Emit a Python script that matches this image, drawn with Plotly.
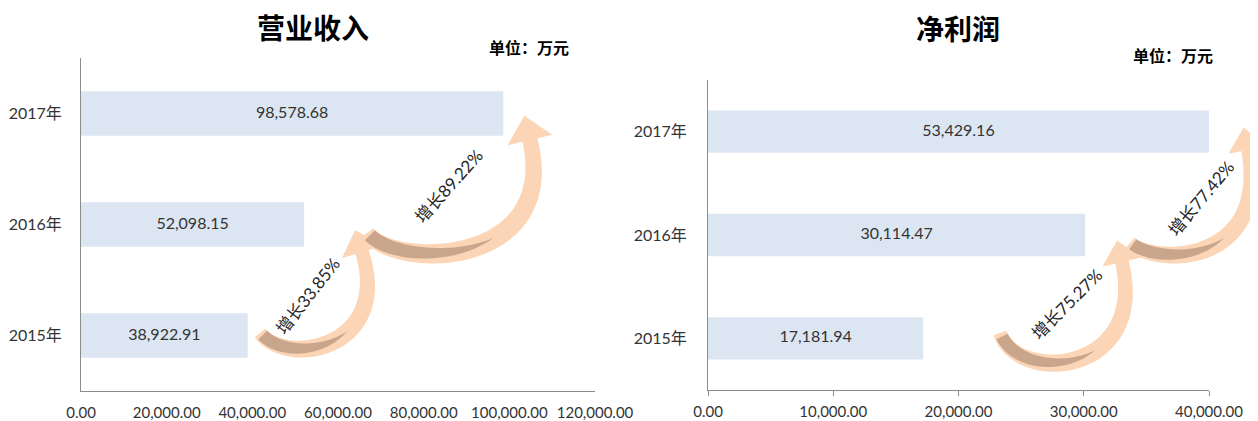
import numpy as np
import plotly.graph_objects as go

OFF = 8                       # page body margin
W, H = 1258 - OFF, 421 - OFF

# ---- data ----
years = ["2015年", "2016年", "2017年"]
revenue = [38922.91, 52098.15, 98578.68]
profit = [17181.94, 30114.47, 53429.16]
rev_growth = ["增长33.85%", "增长89.22%"]
prof_growth = ["增长75.27%", "增长77.42%"]
rev_range = [0, 120000]
prof_range = [0, 40000]
rev_ticks = [0, 20000, 40000, 60000, 80000, 100000, 120000]
prof_ticks = [0, 10000, 20000, 30000, 40000]

BAR = "#dce6f2"
AX = "#8c8c8c"
TXT = "#333333"
PEACH = "#fbd5b5"
BROWN = "#c9a68b"
FONT = "Lato, Noto Sans CJK SC, sans-serif"
CJK = "Noto Sans CJK SC, sans-serif"

def PX(x):
    return (x - OFF) / W

def PY(y):
    return 1 - (y - OFF) / H

def P(x, y):
    return PX(x), PY(y)

fig = go.Figure()

fig.add_trace(go.Bar(x=revenue, y=years, orientation="h", marker=dict(color=BAR, line=dict(width=0)),
                     width=0.4, xaxis="x", yaxis="y", hoverinfo="skip", showlegend=False))
fig.add_trace(go.Bar(x=profit, y=years, orientation="h", marker=dict(color=BAR, line=dict(width=0)),
                     width=0.41, xaxis="x2", yaxis="y2", hoverinfo="skip", showlegend=False))

fig.add_trace(go.Scatter(x=[min(v, rev_range[1]) / 2 for v in revenue], y=years, mode="text",
                         text=[f"{v:,.2f}" for v in revenue], textfont=dict(size=16, color=TXT, family=FONT),
                         xaxis="x", yaxis="y", showlegend=False, hoverinfo="skip"))
fig.add_trace(go.Scatter(x=[min(v, prof_range[1]) / 2 for v in profit], y=years, mode="text",
                         text=[f"{v:,.2f}" for v in profit], textfont=dict(size=16, color=TXT, family=FONT),
                         xaxis="x2", yaxis="y2", showlegend=False, hoverinfo="skip"))

common_x = dict(showgrid=False, zeroline=False, showline=True, linecolor=AX, linewidth=1, automargin=False,
                tickformat=",.2f", tickfont=dict(size=15, color=TXT, family=FONT), fixedrange=True)
common_y = dict(showgrid=False, zeroline=False, showline=True, linecolor=AX, linewidth=1, automargin=False,
                type="category", categoryorder="array", categoryarray=years,
                tickfont=dict(size=16, color=TXT, family=FONT), ticks="", fixedrange=True)

fig.update_layout(
    width=W, height=H, margin=dict(l=0, r=0, t=0, b=0, pad=0, autoexpand=False),
    paper_bgcolor="white", plot_bgcolor="white", showlegend=False,
    xaxis=dict(domain=[PX(81), PX(595)], range=rev_range, tickvals=rev_ticks, ticks="",
               anchor="y", ticklabelstandoff=8, **common_x),
    yaxis=dict(domain=[PY(391), PY(58)], anchor="x", ticklabelstandoff=15, **common_y),
    xaxis2=dict(domain=[PX(708), PX(1209)], range=prof_range, tickvals=prof_ticks, ticks="outside",
                ticklen=5, tickcolor=AX, anchor="y2", ticklabelstandoff=3, **common_x),
    yaxis2=dict(domain=[PY(390), PY(80)], anchor="x2", ticklabelstandoff=17, **common_y),
)

# ---- titles / units ----
def ann(text, x, y, size, bold=True, angle=0, color="black", family=CJK, pad=1):
    px, py = P(x, y)
    fig.add_annotation(text=f"<b>{text}</b>" if bold else text, x=px, y=py, xref="paper", yref="paper",
                       showarrow=False, textangle=angle, font=dict(size=size, color=color, family=family),
                       xanchor="center", yanchor="middle", borderpad=pad)

ann("营业收入", 313, 27, 28, pad=0)
ann("净利润", 958, 28, 28, pad=0)
ann("单位：万元", 529, 47, 16)
ann("单位：万元", 1173, 55, 16)

# ---- curved growth arrows ----
def bez(p0, c1, c2, p3, t):
    t = t[:, None]
    return ((1 - t) ** 3) * p0 + 3 * ((1 - t) ** 2) * t * c1 + 3 * (1 - t) * t ** 2 * c2 + t ** 3 * p3

def bez_d(p0, c1, c2, p3, t):
    t = t[:, None]
    return 3 * ((1 - t) ** 2) * (c1 - p0) + 6 * (1 - t) * t * (c2 - c1) + 3 * t ** 2 * (p3 - c2)

def path_str(pts):
    s = ""
    for i, (x, y) in enumerate(pts):
        px, py = P(x, y)
        s += ("M" if i == 0 else "L") + f"{px:.5f},{py:.5f} "
    return s + "Z"

def arrow(p0, c1, c2, p3, w=15, hw=20, hl=22):
    p0, c1, c2, p3 = map(np.array, (p0, c1, c2, p3))
    t = np.linspace(0, 1, 60)
    c = bez(p0, c1, c2, p3, t)
    d = bez_d(p0, c1, c2, p3, t)
    d = d / np.linalg.norm(d, axis=1)[:, None]
    n = np.stack([-d[:, 1], d[:, 0]], axis=1)
    width = w * (0.85 + 0.25 * np.sin(np.pi * t))
    left = c + n * width[:, None] / 2
    right = c - n * width[:, None] / 2
    T = d[-1]
    N = n[-1]
    tip = p3 + T * hl
    pts = list(left) + [p3 + N * hw, tip, p3 - N * hw] + list(right[::-1])
    fig.add_shape(type="path", path=path_str(pts), xref="paper", yref="paper",
                  fillcolor=PEACH, line=dict(width=0), layer="above")
    # darker twisted underside near the tail
    tb = np.linspace(0.025, 0.6, 40)
    cb = bez(p0, c1, c2, p3, tb)
    db = bez_d(p0, c1, c2, p3, tb)
    db = db / np.linalg.norm(db, axis=1)[:, None]
    nb = np.stack([-db[:, 1], db[:, 0]], axis=1)
    wb = 0.78 * w * (1 - (tb / 0.6) ** 2.5)
    off = -0.04 * w
    lb = cb + nb * (wb[:, None] / 2 + off)
    rb = cb - nb * (wb[:, None] / 2 - off)
    fig.add_shape(type="path", path=path_str(list(lb) + list(rb[::-1])), xref="paper", yref="paper",
                  fillcolor=BROWN, line=dict(width=0), layer="above")

arrow((260, 333), (288, 368), (392, 348), (362, 252), w=16, hw=21, hl=23)
arrow((367, 233), (395, 270), (560, 268), (530, 140), w=18, hw=23, hl=25)
arrow((1000, 333), (1018, 385), (1148, 375), (1122, 262), w=16, hw=20, hl=22)
arrow((1130, 243), (1160, 268), (1270, 262), (1248, 150), w=16, hw=20, hl=23)

ann(rev_growth[0], 307, 296, 17, bold=False, angle=-52, color="#262626", family=FONT)
ann(rev_growth[1], 448, 186, 17, bold=False, angle=-48, color="#262626", family=FONT)
ann(prof_growth[0], 1066, 304, 17, bold=False, angle=-45, color="#262626", family=FONT)
ann(prof_growth[1], 1201, 199, 17, bold=False, angle=-50, color="#262626", family=FONT)

fig.write_html("out.html")
